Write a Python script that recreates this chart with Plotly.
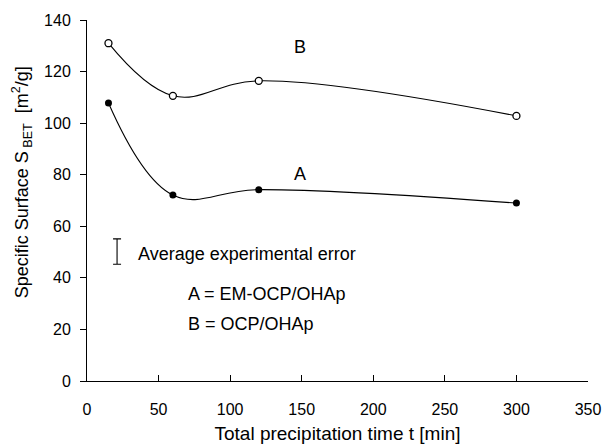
import plotly.graph_objects as go

time_min = [15, 60, 120, 300]
surface_A = [107.8, 72.1, 74.2, 69]
surface_B = [131, 110.6, 116.4, 102.8]
err_x = [21]
err_y = [50.2]
err_half = [4.9]

fig = go.Figure()
fig.add_trace(go.Scatter(x=time_min, y=surface_B, mode="lines+markers",
                         line=dict(shape="spline", smoothing=1.1, color="black", width=1.1),
                         marker=dict(symbol="circle", size=7, color="white", line=dict(color="black", width=1.3)),
                         showlegend=False))
fig.add_trace(go.Scatter(x=time_min, y=surface_A, mode="lines+markers",
                         line=dict(shape="spline", smoothing=1.1, color="black", width=1.1),
                         marker=dict(symbol="circle", size=7, color="black"),
                         showlegend=False))
fig.add_trace(go.Scatter(x=err_x, y=err_y, mode="markers",
                         marker=dict(size=1, color="rgba(0,0,0,0)"),
                         error_y=dict(type="data", array=err_half, color="black", thickness=1.1, width=4),
                         showlegend=False, hoverinfo="skip"))

fam = "Liberation Sans, Arial, sans-serif"
tick_font = dict(family=fam, size=16, color="black")
xtitle_font = dict(family=fam, size=19, color="black")
ytitle_font = dict(family=fam, size=18, color="black")
ann_font = dict(family=fam, size=18, color="black")

ann = [
    (149, 129.7, "B", "center"),
    (149, 80.4, "A", "center"),
    (34, 49.4, "Average experimental error", "left"),
    (69.5, 33.9, "A = EM-OCP/OHAp", "left"),
    (69.5, 22.2, "B = OCP/OHAp", "left"),
]
for x, y, t, xa in ann:
    fig.add_annotation(x=x, y=y, text=t, showarrow=False, xanchor=xa, yanchor="middle",
                       font=ann_font)

# y-axis title (placed as rotated text to match the reference position)
fig.add_annotation(xref="paper", yref="y", x=-0.13, y=77, xanchor="center", yanchor="middle",
                   text="Specific Surface S<sub> BET</sub>  [m<sup>2</sup>/g]", textangle=-90,
                   showarrow=False, font=ytitle_font)

fig.update_layout(
    width=605, height=448,
    margin=dict(l=87, r=17, t=20, b=67),
    plot_bgcolor="white", paper_bgcolor="white",
    font=tick_font,
    xaxis=dict(range=[0, 350], tickvals=[0, 50, 100, 150, 200, 250, 300, 350],
               ticks="inside", ticklen=6, tickcolor="black", showline=True, linecolor="black",
               linewidth=1, showgrid=False, zeroline=False, ticklabelstandoff=14,
               tickfont=tick_font, automargin=False,
               title=dict(text="Total precipitation time t [min]", standoff=9, font=xtitle_font)),
    yaxis=dict(range=[0, 140], tickvals=[0, 20, 40, 60, 80, 100, 120, 140],
               ticks="outside", ticklen=6, tickcolor="black", showline=True, linecolor="black",
               linewidth=1, showgrid=False, zeroline=False, ticklabelstandoff=6,
               tickfont=tick_font, automargin=False),
)
fig.write_html("out.html")
